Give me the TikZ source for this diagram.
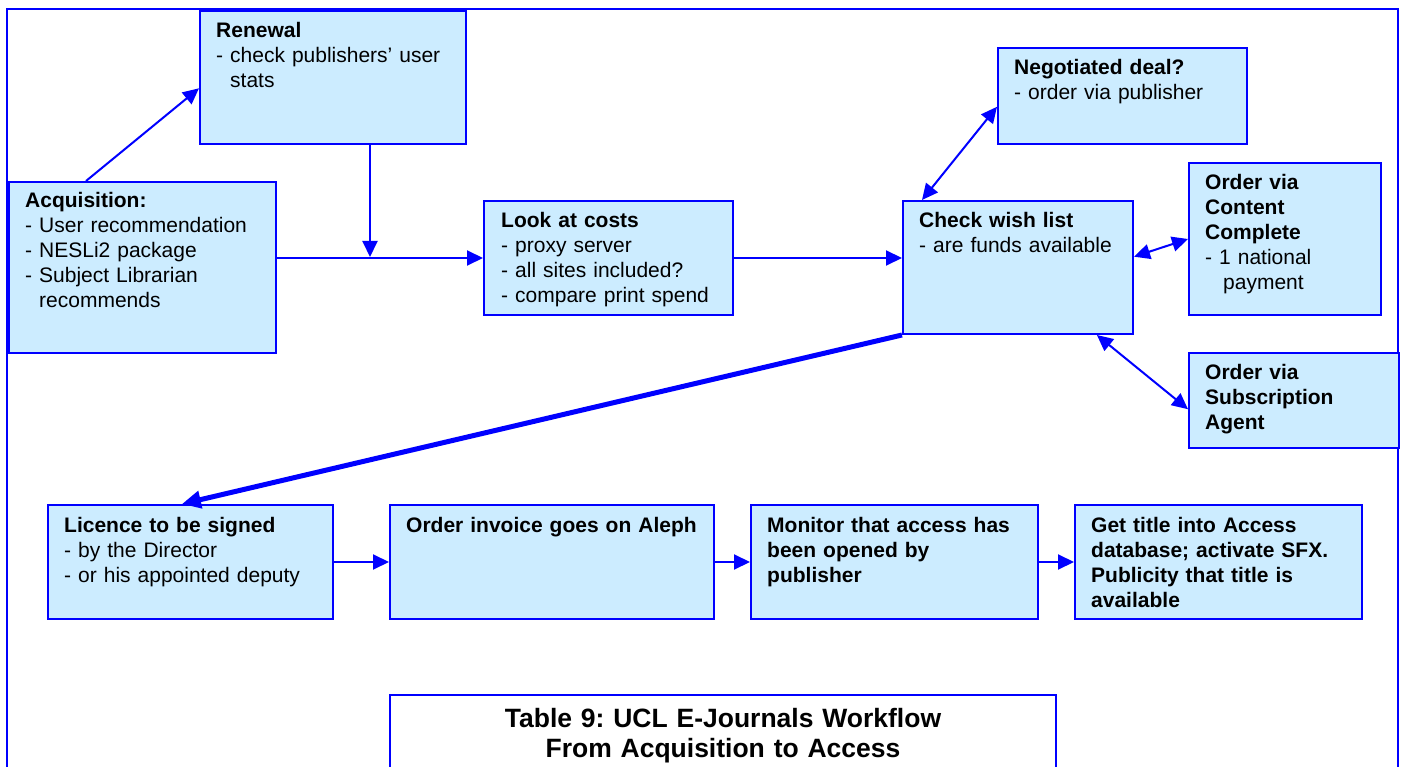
\documentclass[tikz,border=0pt]{standalone}
\usepackage{fontspec}
\setmainfont{Liberation Sans}
\usetikzlibrary{arrows.meta,calc}

\definecolor{boxfill}{RGB}{204,236,255}
\definecolor{flowblue}{RGB}{0,0,255}

\newcommand\hangdash{\hphantom{- }}

\tikzset{
  box/.style={draw=flowblue, fill=boxfill, line width=2pt, rectangle,
    anchor=north west, inner sep=0pt},
  capbox/.style={draw=flowblue, fill=white, line width=2pt, rectangle,
    anchor=north west, inner sep=0pt},
  txt/.style={anchor=base west, inner sep=0pt, text width=360pt, align=left,
    font=\fontsize{21}{25}\selectfont},
  captxt/.style={anchor=base, inner sep=0pt, text width=640pt, align=center,
    font=\fontsize{26.5}{30}\selectfont\bfseries},
  frame/.style={draw=flowblue, line width=2pt},
  tip/.tip={Triangle[length=16pt,width=15pt]},
  arr/.style={draw=flowblue, line width=2pt, -tip},
  darr/.style={draw=flowblue, line width=2pt, tip-tip},
  thickarr/.style={draw=flowblue, line width=5pt,
    -{Triangle[length=19pt,width=17pt]}},
}

\begin{document}
\frenchspacing
\begin{tikzpicture}[x=1pt, y=-1pt]
\useasboundingbox (0,0) rectangle (1401,767);
\clip (0,0) rectangle (1401,767);

% outer frame, open at the bottom
\draw[frame] (7,790) -- (7,9) -- (1398,9) -- (1398,790);

% upper row of boxes
\node[box, minimum width=266pt, minimum height=133pt] (ren) at (199,10) {};
\node[box, minimum width=267pt, minimum height=171pt] (acq) at (8,181) {};
\node[box, minimum width=249pt, minimum height=114pt] (costs) at (483,200) {};
\node[box, minimum width=230pt, minimum height=133pt] (check) at (902,200) {};
\node[box, minimum width=249pt, minimum height=96pt] (neg) at (997,47) {};
\node[box, minimum width=192pt, minimum height=152pt] (cc) at (1188,162) {};
\node[box, minimum width=210pt, minimum height=95pt] (agent) at (1188,352) {};

% lower row of boxes
\node[box, minimum width=285pt, minimum height=114pt] (lic) at (47,504) {};
\node[box, minimum width=324pt, minimum height=114pt] (inv) at (389,504) {};
\node[box, minimum width=287pt, minimum height=114pt] (mon) at (750,504) {};
\node[box, minimum width=287pt, minimum height=114pt] (get) at (1074,504) {};

% caption box
\node[capbox, minimum width=666pt, minimum height=110pt] (cap) at (389,694) {};

% box texts
\node[txt] (ren-t) at ($(ren.north west)+(17,28)$)
  {\textbf{Renewal}\\- check publishers’ user\\\hangdash stats};
\node[txt] (acq-t) at ($(acq.north west)+(17,27)$)
  {\textbf{Acquisition:}\\- User recommendation\\- NESLi2 package\\- Subject Librarian\\\hangdash recommends};
\node[txt] (costs-t) at ($(costs.north west)+(18,28)$)
  {\textbf{Look at costs}\\- proxy server\\- all sites included?\\- compare print spend};
\node[txt] (check-t) at ($(check.north west)+(17,28)$)
  {\textbf{Check wish list}\\- are funds available};
\node[txt] (neg-t) at ($(neg.north west)+(17,28)$)
  {\textbf{Negotiated deal?}\\- order via publisher};
\node[txt] (cc-t) at ($(cc.north west)+(17,28)$)
  {\textbf{Order via}\\\textbf{Content}\\\textbf{Complete}\\- 1 national\\\hspace*{18pt}payment};
\node[txt] (agent-t) at ($(agent.north west)+(17,28)$)
  {\textbf{Order via}\\\textbf{Subscription}\\\textbf{Agent}};
\node[txt] (lic-t) at ($(lic.north west)+(17,28)$)
  {\textbf{Licence to be signed}\\- by the Director\\- or his appointed deputy};
\node[txt, font=\fontsize{21}{25}\selectfont\bfseries] (inv-t) at ($(inv.north west)+(17,28)$)
  {Order invoice goes on Aleph};
\node[txt, font=\fontsize{21}{25}\selectfont\bfseries] (mon-t) at ($(mon.north west)+(17,28)$)
  {Monitor that access has\\been opened by\\publisher};
\node[txt, font=\fontsize{21}{25}\selectfont\bfseries] (get-t) at ($(get.north west)+(17,28)$)
  {Get title into Access\\database; activate SFX.\\Publicity that title is\\available};
\node[captxt] (cap-t) at ($(cap.north)+(0,33)$)
  {Table 9: UCL E-Journals Workflow\\From Acquisition to Access};

% junction where the renewal path meets the main line
\coordinate (join) at (370,257);

% connectors
\draw[arr] ($(acq.north west)!0.29!(acq.north east)$) -- ($(ren.north west)!0.58!(ren.south west)$);
\draw[arr] (join |- ren.south) -- (join);
\draw[arr] (acq.east |- costs.west) -- (costs.west);
\draw[arr] (costs.east) -- (costs.east -| check.west);
\draw[darr] ($(check.north west)+(20,0)$) -- ($(neg.north west)!0.61!(neg.south west)$);
\draw[darr] ($(check.north east)!0.42!(check.south east)$) -- ($(cc.north west)!0.5!(cc.south west)$);
\draw[darr] ($(check.south west)!0.84!(check.south east)$) -- ($(agent.north west)!0.59!(agent.south west)$);
\draw[thickarr] (check.south west) -- ($(lic.north west)!0.47!(lic.north east)$);
\draw[arr] (lic.east) -- (inv.west);
\draw[arr] (inv.east) -- (mon.west);
\draw[arr] (mon.east) -- (get.west);
\end{tikzpicture}
\end{document}
